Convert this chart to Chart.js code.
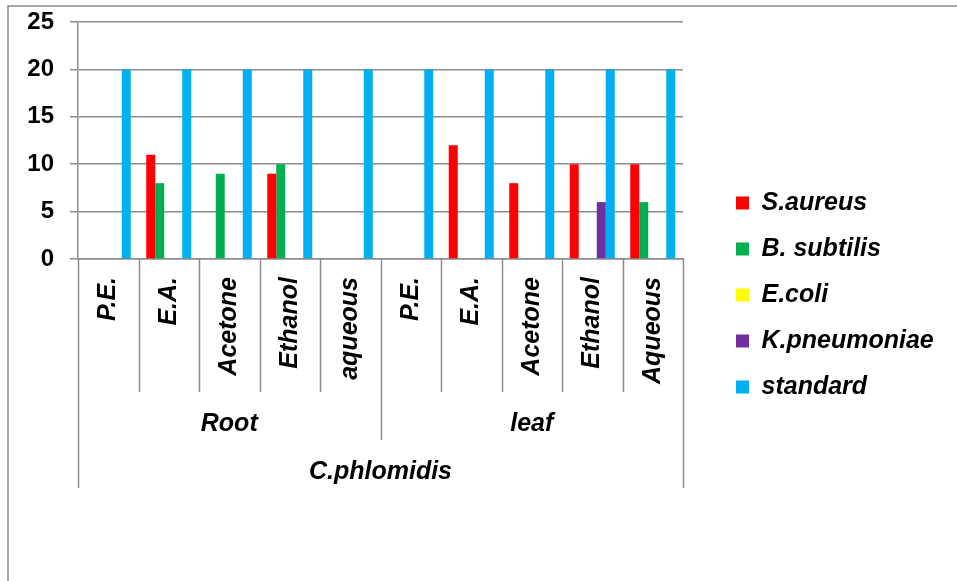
<!DOCTYPE html>
<html><head><meta charset="utf-8">
<script src="https://cdn.jsdelivr.net/npm/chart.js@4"></script>
<style>html,body{margin:0;padding:0;background:#fff}#wrap{width:957px;height:581px;position:relative}</style>
</head><body><div id="wrap"><canvas id="c" width="957" height="581"></canvas></div>
<script>
const categories = ['P.E.','E.A.','Acetone','Ethanol','aqueous','P.E.','E.A.','Acetone','Ethanol','Aqueous'];
const groupLabels = ['Root','leaf'];
const groupSizes = [5,5];
const topLabel = 'C.phlomidis';
const seriesNames = ['S.aureus','B. subtilis','E.coli','K.pneumoniae','standard'];
const sAureus = [0,11,0,9,0,0,12,8,10,10];
const bSubtilis = [0,8,9,10,0,0,0,0,0,6];
const eColi = [0,0,0,0,0,0,0,0,0,0];
const kPneumoniae = [0,0,0,0,0,0,0,0,6,0];
const standard = [20,20,20,20,20,20,20,20,20,20];
const yTicks = [0,5,10,15,20,25];
const colors = ['#FF0000','#00B050','#FFFF00','#7030A0','#00B0F0'];

const FAMILY = "'Liberation Sans', Arial, sans-serif";
const GRID = '#8c8c8c';
const legendFont = {family: FAMILY, size: 25, weight: 'bold', style: 'italic'};

const mctx = document.createElement('canvas').getContext('2d');
mctx.font = 'italic bold 25px ' + FAMILY;
const maxText = Math.max(...seriesNames.map(t => mctx.measureText(t).width));
const legendPad = 21, boxW = 13;
const legendWidth = legendPad + boxW + 12.5 + maxText + 10;
const legendLeft = 715;
const padRight = Math.max(0, 957 - legendLeft - legendWidth);

const allSeries = [sAureus, bSubtilis, eColi, kPneumoniae, standard];

const multiLevel = {
  id: 'multiLevel',
  beforeDraw(chart) {
    const ctx = chart.ctx;
    ctx.save();
    ctx.fillStyle = '#fff';
    ctx.fillRect(0, 0, chart.width, chart.height);
    ctx.strokeStyle = GRID;
    ctx.lineWidth = 1.5;
    ctx.beginPath();
    ctx.moveTo(8, chart.height);
    ctx.lineTo(8, 6);
    ctx.lineTo(chart.width, 6);
    ctx.stroke();
    ctx.restore();
  },
  afterDraw(chart) {
    const ctx = chart.ctx;
    const xs = chart.scales.x;
    const area = chart.chartArea;
    const b = area.bottom;
    const l1 = b + 133, l2 = b + 181, l3 = b + 229;
    const n = categories.length;
    const edge = i => {
      if (i <= 0) return area.left;
      if (i >= n) return area.right;
      return (xs.getPixelForValue(i - 1) + xs.getPixelForValue(i)) / 2;
    };
    const groupEnds = [];
    let acc = 0;
    groupSizes.forEach(s => { acc += s; groupEnds.push(acc); });
    ctx.save();
    ctx.strokeStyle = GRID;
    ctx.lineWidth = 1.5;
    for (let i = 0; i <= n; i++) {
      let bottom = l1;
      if (i === 0 || i === n) bottom = l3;
      else if (groupEnds.includes(i)) bottom = l2;
      const x = Math.round(edge(i)) + 0.5;
      ctx.beginPath();
      ctx.moveTo(x, b);
      ctx.lineTo(x, bottom);
      ctx.stroke();
    }
    ctx.fillStyle = '#000';
    ctx.font = 'italic bold 25px ' + FAMILY;
    ctx.textAlign = 'center';
    ctx.textBaseline = 'middle';
    let start = 0;
    groupLabels.forEach((g, k) => {
      const end = start + groupSizes[k];
      ctx.fillText(g, (edge(start) + edge(end)) / 2, b + 165);
      start = end;
    });
    ctx.fillText(topLabel, (area.left + area.right) / 2, b + 213);
    ctx.restore();
  }
};

new Chart(document.getElementById('c'), {
  type: 'bar',
  data: {
    labels: categories,
    datasets: seriesNames.map((name, i) => ({
      label: name,
      data: allSeries[i],
      backgroundColor: colors[i],
      borderWidth: 0,
      categoryPercentage: 0.744,
      barPercentage: 1,
      yAxisID: 'y'
    }))
  },
  options: {
    responsive: false,
    animation: false,
    devicePixelRatio: 1,
    layout: {padding: {top: 22, bottom: 13, left: 0, right: padRight}},
    plugins: {
      legend: {
        position: 'right',
        align: 'center',
        maxWidth: 400,
        labels: {boxWidth: boxW, boxHeight: 13, padding: legendPad, font: legendFont, color: '#000'}
      },
      tooltip: {enabled: false},
      title: {display: false}
    },
    scales: {
      x: {
        type: 'category',
        grid: {display: false, drawTicks: false},
        border: {display: true, color: GRID, width: 1.5},
        ticks: {
          autoSkip: false, minRotation: 90, maxRotation: 90, padding: 18,
          color: '#000', font: {family: FAMILY, size: 25, weight: 'bold', style: 'italic'}
        },
        afterFit: s => { s.height = 309; }
      },
      y: {
        position: 'left',
        min: 0, max: 25,
        afterBuildTicks: s => { s.ticks = yTicks.map(v => ({value: v})); },
        grid: {color: GRID, lineWidth: 1.5, tickLength: 8},
        border: {display: true, color: GRID, width: 1.5},
        ticks: {padding: 16, color: '#000', font: {family: FAMILY, size: 24, weight: 'bold'}},
        afterFit: s => { s.width = 78; s.paddingTop = 0; s.paddingBottom = 0; }
      },
      pad: {
        type: 'linear',
        position: 'right',
        display: true,
        grid: {display: false, drawTicks: false},
        border: {display: false},
        ticks: {display: false},
        afterFit: s => { s.width = legendLeft - 683; }
      }
    }
  },
  plugins: [multiLevel]
});
</script>
</body></html>
